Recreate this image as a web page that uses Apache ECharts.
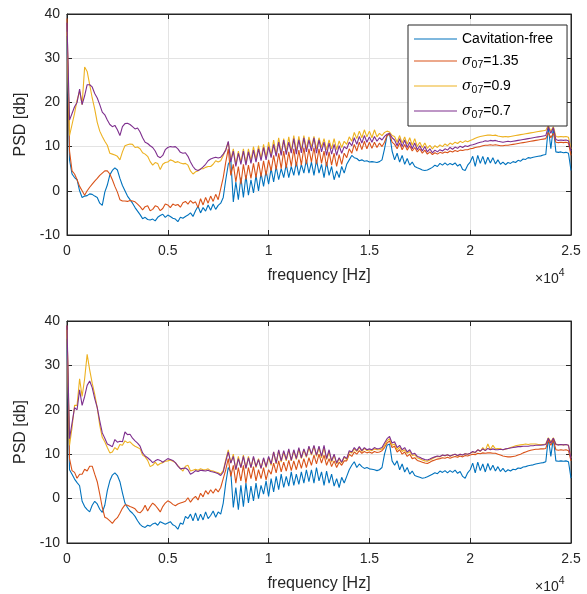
<!DOCTYPE html>
<html><head><meta charset="utf-8">
<script src="https://cdn.jsdelivr.net/npm/echarts@6/dist/echarts.min.js"></script>
<style>html,body{margin:0;padding:0;background:#fff}#c{width:587px;height:594px}</style>
</head><body><div id="c"></div>
<script>
// frequency grid: samples every 125 Hz from 0 to 25000 Hz
const FREQ_STEP_HZ = 125;
const xTickLabels = ['0','0.5','1','1.5','2','2.5'];
const yTicks = [-10, 0, 10, 20, 30, 40];
const seriesNames = ['Cavitation-free', 'σ07=1.35', 'σ07=0.9', 'σ07=0.7'];

// ---- Top panel (PSD in dB) ----
const topCavFree = [35,7,3.8,3,2.5,0,-1.5,-1.2,-1.1,-0.7,-0.8,-1.2,-1.5,-2.8,-3.3,-0.3,1.3,3.6,4.6,5.2,4.7,2.8,1.2,0,-1.2,-2,-2.8,-3.8,-4.6,-5.4,-6.3,-6,-6.5,-6.6,-6.4,-6.8,-6,-5.6,-5.3,-6,-5.5,-5.8,-6.2,-6.4,-7,-6,-6.2,-5.8,-5.5,-5,-5.8,
 -4.5,-3.5,-5,-3.8,-4.6,-3.2,-4.4,-3,-4.2,-3.3,
 -2.8,-1.5,2.5,6,
 7,-2.5,2,-2,3,-1.5,3.5,-1,2.5,-0.5,3.5,0,4,1,4.5,1.5,
 5,2,5.5,2.5,5,3,6,3,5.5,3.5,6.5,3.5,6,4,7,4,
 6.5,3.5,7,4,6,3,6.5,3.5,5.5,2.5,4.5,3,5.5,4,
 6,7,8,7.5,7.3,6.8,7,6.7,6.8,6.5,
 6.6,6.5,6.4,6.6,7,9.5,12.5,13,9,7,
 8.5,6.5,8,6,7.3,5.8,6.5,5.5,5.2,5,
 4.7,4.6,4.7,5,5.3,5.8,5.5,6.2,5.8,6.3,
 5.8,6.2,5.9,6.3,5.6,6,4.8,4.6,5.8,6.5,
 7.8,5.5,8,6.2,7.8,6,7.6,6.3,7.5,6.1,
 7,6,6.5,5.9,6.4,6.2,6.6,6.4,6.9,6.7,
 7.2,7.1,7.5,7.4,7.6,7.7,7.8,7.9,8.1,8.2,
 14.3,9.5,14.3,8.8,8.7,8.8,8.6,8.7,8.5,4.6];
const topSigma135 = [39,9,4.5,3.8,2.5,1,0,-1,0,0.8,1.5,2.2,2.8,3.5,4,4.5,4.5,3.8,2.5,1,-0.3,-2,-2.3,-2.3,-2.4,-2.2,-2.3,-2.5,-3,-3.6,-4.3,-3.6,-3.4,-4.5,-4.2,-3.4,-3.6,-4.5,-4,-3,-3.2,-3.8,-3,-3.3,-3.1,-3.7,-2.7,-2.4,-3,-2.2,-2.8,
 -2.5,-3.8,-1.8,-3.2,-1.5,-2.8,-1.2,-2.4,-0.8,-2,
 0.5,3,6.5,9.5,
 3.5,6,2,5.5,1.5,6,2.5,5.8,2.8,6.2,3,6.5,3.2,6.8,3.5,7,
 4.5,8,4.8,8.5,5,9,5.2,8.8,5.5,9.5,5.5,9.2,5.8,9.8,6,9.5,
 6.5,9.8,6,9.5,6.2,9,5.5,8.8,5.8,8.5,5.5,8.2,6,8.5,
 7.5,9.5,8.5,10.5,9,11,9.3,11.2,9.5,11,
 9.6,11,9.8,10.8,10,11,12.5,12.8,11,10.5,
 9.5,10.8,9.3,10.5,9.2,10.2,9,9.8,8.8,9.5,
 8.5,9.2,8.3,8.8,8.2,8.6,8.3,8.7,8.5,8.8,
 8.6,9,8.8,9.1,8.9,9.2,9.1,9.3,9.3,9.5,
 9.6,9.8,9.9,10,10.2,10.3,10.3,10.4,10.3,10.4,
 10.3,10.2,10.2,10.3,10.3,10.4,10.5,10.6,10.7,10.8,
 10.9,11,11.1,11.2,11.3,11.4,11.5,11.6,11.7,11.8,
 13.2,12,13,11,10.9,11,10.9,11,10.8,8];
const topSigma09 = [36,12.5,15,17.5,20.5,22.5,19.5,28,27,24,21,18.5,15.5,13.5,12.3,11.2,10.3,8.5,8.3,8.1,7.8,7,8.8,10.2,10.4,10.6,10.5,9.8,9.9,9.5,8.6,8.3,7.8,6.6,5.8,6.4,6.2,4.8,6,6.4,6.5,7,6.8,6.4,6.6,6.3,6.1,6.2,5.8,4.5,3.8,
 4.3,4.5,5,5,5.3,5.5,5.5,6,6.8,6.5,
 6.8,8,9.3,11,
 7,9.5,6,9,6.5,9.5,6.2,9.5,6.8,10,7,10.2,7.2,10.5,7.5,11,
 8,11.5,8.2,12,8.5,11.8,8.8,12.2,8.8,12.5,9,12.3,9.2,12.5,9.5,12.2,
 9.8,12.3,9.5,12,9.8,11.8,9.2,11.5,9.5,11.8,9.3,11.3,9.8,11.2,
 10.5,12.2,11.2,13.2,11.8,13.5,12,13.8,12.2,13.5,
 12,13.8,12.2,13,12.5,13.2,13.5,13.3,12.5,12.3,
 11,12.5,10.8,12.2,10.5,12,10.3,11.8,10,11,
 9.8,10.8,9.6,10.3,9.5,10.2,9.8,10.4,10,10.6,
 10.2,10.8,10.5,11,10.7,11.2,10.9,11.3,11.1,11.4,
 11.6,11.9,12.1,12.3,12.4,12.5,12.6,12.6,12.5,12.6,
 12.4,12.3,12.2,12.3,12.2,12.3,12.4,12.5,12.6,12.7,
 12.8,12.9,13,13.1,13.2,13.3,13.4,13.5,13.6,13.7,
 14.8,13.5,14.5,12.3,12.2,12.3,12.2,12.3,12.1,9.5];
const topSigma07 = [38,16,17.5,19,20,23,19.5,21.5,24,24,23.5,22,21,19.5,17.8,17.2,16,15,14.5,14.8,13.8,12.5,14.5,15.2,15.3,15,14.5,14,14.2,13.3,12,11,10.7,10.2,9.8,9,7.8,7.5,8,9.3,9.8,10,9.9,10,9.5,8.7,8.5,8.6,7.8,6.5,5.5,
 4.8,4.6,4.9,5.4,6,6.8,7.2,7.4,7.6,7.4,
 7.6,8.3,9.2,11.2,
 6.5,9,5.5,8.5,6,9,5.8,8.8,6.2,9.2,6.5,9.5,6.8,9.8,7,10,
 7.5,10.5,7.8,11,8,11.5,8.2,11,8.5,11.8,8.3,11.5,8.6,12,8.8,11.5,
 9,12,8.5,11.5,8.8,11,8,10.8,8.3,10.5,8,10.2,8.5,10,
 9.5,11,10.2,12,10.5,12.3,10.8,12.5,11,12.2,
 11,12.3,11.2,12,11.5,12.3,12.8,13,12,11.5,
 10.2,11.8,10,11.5,9.8,11,9.5,10.8,9.3,10.2,
 9,10,8.8,9.5,8.6,9.2,8.8,9.3,9,9.5,
 9.2,9.8,9.4,9.9,9.6,10.1,9.8,10.2,10,10.3,
 10.4,10.6,10.8,11,11.1,11.3,11.2,11.4,11.3,11.4,
 11.2,11.1,11,11.1,11.2,11.1,11.2,11.3,11.4,11.5,
 11.6,11.7,11.8,11.9,12,12.1,12.2,12.3,12.4,12.5,
 14.5,13,14.3,11.6,11.4,11.5,11.4,11.5,11.3,9];

// ---- Bottom panel (PSD in dB) ----
const botCavFree = [36,6.5,5.5,4.4,3.6,2.9,-0.6,-1.8,-2.5,-3,-1.5,-0.6,-1.2,-2.4,-3.1,-1.5,1.8,4,5.3,5.8,5.2,3.8,1.3,-1,-2,-2.8,-3.3,-4,-5,-5.8,-6.3,-6.5,-6,-6.2,-5.7,-5.5,-6,-5.2,-5.5,-5.8,-5.5,-5.2,-5.9,-6.2,-6.9,-5.5,-5.8,-4,-4.5,-3.5,-5,
 -3.2,-5,-3.5,-4.8,-3,-4.5,-3.8,-2.8,-4.2,-3,
 -3.5,-1,3.5,7,
 6,-2,2.5,-2.5,3,-1.8,3.5,-1,2.8,-0.5,3.5,0,3,1,4,0.5,
 4.5,1.5,5,2,5.5,2.5,5,2.8,6,3,5.5,3.2,6,3.5,6.5,3.8,
 6.5,3.5,7,4,6,3,6.2,3.5,5.5,2.8,4.5,2.5,4.8,3.5,
 5,6.5,7.5,8.3,7,7.8,7.2,6.8,7,6.7,
 6.6,6.5,6.3,6.5,7,10,12,12.3,8.5,7.5,
 8.5,6.5,7.8,6,7,5.5,6.2,5.2,5,4.8,
 4.6,4.7,4.9,5.2,5.5,5.8,5.6,6.2,5.9,6.3,
 5.8,6.3,5.9,6.4,5.7,6.1,5,4.6,5.8,6.5,
 8,5.8,8.2,6.3,7.8,6,7.9,6.4,7.5,6.2,
 7.2,6.1,6.8,6,6.5,6.2,6.6,6.5,6.9,6.8,
 7.1,7.2,7.4,7.5,7.6,7.8,7.9,8,8.1,8.3,
 13.6,9.5,13.6,8.5,8.4,8.5,8.4,8.5,8.3,4.6];
const botSigma135 = [39,9,6.3,5.9,4.6,5.5,5.5,6.6,6.2,7.3,7.3,5.5,3.8,1,-2,-4.2,-4.5,-5,-5.6,-4.8,-4.3,-3.3,-2.2,-1.4,-1.5,-1.8,-2,-2.3,-3,-3.2,-2.6,-1.5,-2.8,-1.8,-1,-1.5,-2.2,-3,-1.8,-1,-0.5,-0.8,-1.3,-1.6,-1.2,-1,-0.8,-0.6,0.2,-0.8,0,
 0.5,-0.3,1.2,0.4,1.8,1,2,1.2,2.2,1.5,
 2.5,4.5,6.5,9,
 5,7.5,3.5,7,4,7.5,3.5,7,4.5,7.2,4,6.5,4.5,7,4.2,6.5,
 5.5,8,5.8,8.5,6,8.2,6.2,8.6,6.3,8.5,6.5,8.8,6.8,9,7,9.2,
 7.5,9.8,7.8,10,8,9.8,7.5,9,7.2,8.5,7,8.2,7.5,8.5,
 8.5,10,9.5,10.5,10,10.8,10.2,10.6,10.3,10.5,
 10.2,10.6,10.4,10.5,10.8,11.5,12.5,13,11.5,11.8,
 10.5,11,10,10.5,9.5,10,9,9.2,8.6,8.4,
 8.2,8,7.9,8.2,8.5,8.7,8.9,9,9.2,9.1,
 9.3,9.1,9.3,9.5,9.3,9.6,9.4,9.7,9.6,9.8,
 10,9.9,10.2,10.1,10.3,10.2,10.3,10.3,10.2,10.2,
 10,9.8,9.6,9.5,9.4,9.4,9.5,9.6,9.8,10,
 10.3,10.5,10.7,10.9,11,11.1,11.1,11.2,11.2,11.3,
 13.2,12,13.2,11,10.9,11,10.9,11,10.8,8.5];
const botSigma09 = [38,12,16,21,21,27,23,27,32.5,29,26,23.5,20.5,16.5,13.8,12.8,11.5,10.3,10.5,11.5,11,12.2,12,13,12.6,12.8,12.2,11.8,11.5,11.2,9.8,9.4,8.6,7.2,7.5,8.2,7.5,7.9,8.1,8.4,8.5,8.7,8.4,8.1,7.4,6.8,6.2,7.3,7.5,6.2,6.4,
 6.6,6.4,6.7,6.5,6.5,6.7,6.3,6.2,6,5.8,
 5.5,6.3,8.7,11,
 8,10,6.5,9.5,7,9.8,6.8,9.5,7,9.3,7,9,6.8,9,7,9.2,
 7.5,10.5,7.8,10.8,8.2,10.5,8.5,11,8.5,10.8,8.8,11.2,9,11,9.3,11.5,
 9.8,11.8,9.5,11.5,9.2,11.5,8.8,10.5,8.2,9.8,7.8,9,8,9.3,
 8.8,10.5,10.3,11.2,10.6,11.5,10.6,11.3,10.8,11,
 10.8,11.2,11,11,11.2,12,13,13.5,12,12.3,
 11,11.6,10.6,11,10.2,10.6,9.7,9.9,9.2,9,
 8.7,8.5,8.4,8.7,9,9.3,9.5,9.4,9.8,9.6,
 9.9,9.5,9.8,10,9.6,10,9.8,10.1,10,10.2,
 10.5,10.3,11,10.6,11.5,10.8,12.3,11,12,11.2,
 11.3,11.2,11,11.1,11.3,11.5,11.7,11.9,12,12.1,
 12.2,12.3,12.2,12.3,12.3,12.3,12.2,12.2,12.2,12.3,
 13.7,12.8,13.7,12.3,12.1,12.2,12.1,12.2,12,9.2];
const botSigma07 = [39,13.5,17,20.5,20,24.5,21,23,25.5,26.5,25,22.5,20.5,17.5,14.8,13.6,12.3,12,11.7,13.3,12.7,12.9,12.8,15,14.4,14.5,13.6,13,12.5,11.8,10.3,9.6,9.2,8.7,8.1,8.5,8.8,8.6,8.2,8.6,9,8.8,8.6,8.1,7.3,6.7,6.8,6.9,6.5,5.5,5.8,
 6.3,6.1,6.4,6.3,6.2,6.4,6.1,6,5.8,5.6,
 5.2,6,8.4,10.5,
 8,9.5,6.5,9,7,9.5,6.8,9.2,7,9.5,7.2,8.8,6.8,9.2,7.2,9.5,
 7.8,10.5,8,11,8.5,10.8,8.8,11.2,8.6,11,9,11.5,9.2,11.2,9.5,11.8,
 10,12,9.8,11.8,9.5,12,9,11,8.5,10,8,9.2,8.2,9.5,
 9,10.8,10.5,11.5,10.8,11.7,10.8,11.5,11,11.2,
 11,11.5,11.2,11.3,11.5,12.5,13.5,14,12.5,12.8,
 11.5,12,11,11.5,10.5,11,10,10.2,9.5,9.3,
 9,8.8,8.7,8.9,9.2,9.4,9.6,9.5,9.8,9.7,
 9.9,9.6,9.8,10,9.7,10,9.8,10.1,10,10.2,
 10.6,10.4,11,10.7,11.2,10.8,11.3,11,11.2,11,
 11,11.1,11,11.2,11.3,11.4,11.5,11.6,11.7,11.7,
 11.8,11.8,11.8,11.9,11.9,12,12,12,12.1,12.2,
 13.6,12.5,13.6,12.2,12.1,12.2,12.1,12.2,12,9];

const COLORS = ['#0072BD', '#D95319', '#EDB120', '#7E2F8E'];
const FONT = 'Liberation Sans, Arial, Helvetica, sans-serif';
const TXT = '#262626';

const freq = topCavFree.map((_, i) => i * FREQ_STEP_HZ);
const pair = arr => arr.map((v, i) => [freq[i], v]);

const chart = echarts.init(document.getElementById('c'), null, {renderer: 'canvas'});

const grids = [
  {left: 67, right: 16, top: 14, height: 221, show: true, borderColor: TXT, borderWidth: 1, backgroundColor: '#fff'},
  {left: 67, right: 16, top: 321, height: 222, show: true, borderColor: TXT, borderWidth: 1, backgroundColor: '#fff'}
];

function xMain(gi) {
  return {
    type: 'value', gridIndex: gi, min: 0, max: 25000, interval: 5000, position: 'bottom',
    name: 'frequency [Hz]', nameLocation: 'middle', nameGap: 33,
    nameTextStyle: {fontFamily: FONT, fontSize: 16, color: TXT},
    axisLine: {show: true, onZero: false, lineStyle: {color: TXT, width: 1}},
    axisTick: {show: true, inside: true, length: 5, lineStyle: {color: TXT}},
    axisLabel: {fontFamily: FONT, fontSize: 14, color: TXT, margin: 9,
      formatter: v => xTickLabels[Math.round(v / 5000)]},
    splitLine: {show: true, lineStyle: {color: '#e3e3e3', width: 1}}
  };
}
function xTop(gi) {
  return {type: 'value', gridIndex: gi, min: 0, max: 25000, interval: 5000, position: 'top',
    axisLine: {show: true, onZero: false, lineStyle: {color: TXT}},
    axisTick: {show: true, inside: true, length: 5, lineStyle: {color: TXT}},
    axisLabel: {show: false}, splitLine: {show: false}};
}
function yMain(gi) {
  return {
    type: 'value', gridIndex: gi, min: yTicks[0], max: yTicks[yTicks.length - 1], interval: 10, position: 'left',
    name: 'PSD [db]', nameLocation: 'middle', nameGap: 35, nameRotate: 90,
    nameTextStyle: {fontFamily: FONT, fontSize: 16, color: TXT},
    axisLine: {show: true, onZero: false, lineStyle: {color: TXT}},
    axisTick: {show: true, inside: true, length: 5, lineStyle: {color: TXT}},
    axisLabel: {fontFamily: FONT, fontSize: 14, color: TXT, margin: 7},
    splitLine: {show: true, lineStyle: {color: '#e3e3e3', width: 1}}
  };
}
function yRight(gi) {
  return {type: 'value', gridIndex: gi, min: -10, max: 40, interval: 10, position: 'right',
    axisLine: {show: true, onZero: false, lineStyle: {color: TXT}},
    axisTick: {show: true, inside: true, length: 5, lineStyle: {color: TXT}},
    axisLabel: {show: false}, splitLine: {show: false}};
}

const topData = [topCavFree, topSigma135, topSigma09, topSigma07];
const botData = [botCavFree, botSigma135, botSigma09, botSigma07];
const series = [];
topData.forEach((arr, k) => series.push({
  name: seriesNames[k], type: 'line', xAxisIndex: 0, yAxisIndex: 0, data: pair(arr),
  symbol: 'none', showSymbol: false, lineStyle: {width: 1.1, color: COLORS[k]}, itemStyle: {color: COLORS[k]},
  z: 2 + k, animation: false
}));
botData.forEach((arr, k) => series.push({
  name: seriesNames[k], type: 'line', xAxisIndex: 2, yAxisIndex: 2, data: pair(arr),
  symbol: 'none', showSymbol: false, lineStyle: {width: 1.1, color: COLORS[k]}, itemStyle: {color: COLORS[k]},
  z: 2 + k, animation: false
}));

const legendRich = {
  n: {fontFamily: FONT, fontSize: 14, color: '#000'},
  s: {fontFamily: 'DejaVu Serif', fontStyle: 'italic', fontSize: 14, color: '#000'},
  b: {fontFamily: FONT, fontSize: 10.5, color: '#000', padding: [9, 0, 0, 0]}
};

const option = {
  animation: false,
  backgroundColor: '#fff',
  grid: grids,
  xAxis: [xMain(0), xTop(0), xMain(1), xTop(1)],
  yAxis: [yMain(0), yRight(0), yMain(1), yRight(1)],
  legend: {
    show: true, z: 20,
    data: seriesNames.map((n, k) => ({name: n, icon: 'rect', itemStyle: {color: COLORS[k]}})),
    orient: 'vertical', left: 408, top: 25,
    backgroundColor: '#fff', borderColor: TXT, borderWidth: 1,
    padding: [7, 14, 5, 6], itemGap: 8, itemWidth: 43, itemHeight: 1.2,
    textStyle: {fontFamily: FONT, fontSize: 14, color: '#000', rich: legendRich},
    formatter: name => {
      if (name.charAt(0) === 'σ') {
        const val = name.split('=')[1];
        return '{s|σ}{b|07}{n|=' + val + '}';
      }
      return '{n|' + name + '}';
    }
  },
  graphic: [
    {type: 'text', left: 535, top: 268, z: 10, style: {text: '{a|×10}{e|4}', rich: {
      a: {fontFamily: FONT, fontSize: 14, fill: TXT, padding: [6, 0, 0, 0]},
      e: {fontFamily: FONT, fontSize: 10.5, fill: TXT, padding: [0, 0, 6, 0]}}}},
    {type: 'text', left: 535, top: 576, z: 10, style: {text: '{a|×10}{e|4}', rich: {
      a: {fontFamily: FONT, fontSize: 14, fill: TXT, padding: [6, 0, 0, 0]},
      e: {fontFamily: FONT, fontSize: 10.5, fill: TXT, padding: [0, 0, 6, 0]}}}}
  ],
  series: series
};
chart.setOption(option);
</script>
</body></html>
